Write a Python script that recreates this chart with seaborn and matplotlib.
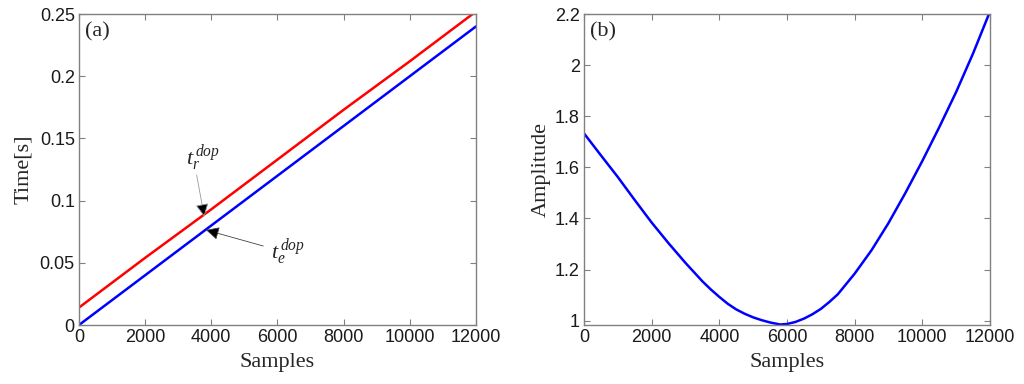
import matplotlib
matplotlib.use("Agg")
import matplotlib.pyplot as plt
import pandas as pd
import seaborn as sns

# (a) time axes
samples_a = [0, 2000, 4000, 6000, 8000, 10000, 12000]
t_r = [0.014, 0.054, 0.093, 0.133, 0.173, 0.212, 0.252]
t_e = [0.000, 0.040, 0.080, 0.120, 0.160, 0.200, 0.240]

# (b) amplitude curve
samples_b = [0, 500, 1000, 1500, 2000, 2500, 3000, 3500, 3750, 4000, 4250,
             4500, 4750, 5000, 5250, 5500, 5800, 6000, 6250, 6500, 6750,
             7000, 7250, 7500, 8000, 8500, 9000, 9500, 10000, 10500, 11000,
             11500, 12000]
amplitude = [1.733, 1.647, 1.562, 1.472, 1.384, 1.303, 1.226, 1.154, 1.122,
             1.093, 1.066, 1.044, 1.027, 1.013, 1.002, 0.993, 0.985, 0.987,
             0.995, 1.008, 1.025, 1.046, 1.073, 1.103, 1.184, 1.276, 1.382,
             1.500, 1.625, 1.757, 1.895, 2.046, 2.21]

x_ticks = [0, 2000, 4000, 6000, 8000, 10000, 12000]

sns.set_theme(style="white")
plt.rcParams["font.family"] = ["Liberation Sans", "DejaVu Sans"]
plt.rcParams["mathtext.fontset"] = "custom"
plt.rcParams["mathtext.rm"] = "Liberation Serif"
plt.rcParams["mathtext.it"] = "Liberation Serif:italic"

serif = ["Liberation Serif", "DejaVu Serif"]

fig = plt.figure(figsize=(10.24, 3.84), dpi=100)
ax1 = fig.add_axes([0.0771, 0.1536, 0.3877, 0.8099])
ax2 = fig.add_axes([0.5703, 0.1536, 0.3965, 0.8099])

df_a = pd.DataFrame({"samples": samples_a, "t_r": t_r, "t_e": t_e})
df_b = pd.DataFrame({"samples": samples_b, "amp": amplitude})

sns.lineplot(data=df_a, x="samples", y="t_r", ax=ax1, color="#ff0000", lw=1.8)
sns.lineplot(data=df_a, x="samples", y="t_e", ax=ax1, color="#0000ff", lw=1.8)
sns.lineplot(data=df_b, x="samples", y="amp", ax=ax2, color="#0000ff", lw=1.8)

ax1.set_xlim(0, 12000)
ax1.set_ylim(0, 0.25)
ax1.set_yticks([0, 0.05, 0.1, 0.15, 0.2, 0.25])
ax1.set_yticklabels(["0", "0.05", "0.1", "0.15", "0.2", "0.25"])
ax1.set_ylabel("Time[s]", family=serif, fontsize=16, labelpad=5)

ax2.set_xlim(0, 12000)
ax2.set_ylim(0.983, 2.2)
ax2.set_yticks([1, 1.2, 1.4, 1.6, 1.8, 2, 2.2])
ax2.set_yticklabels(["1", "1.2", "1.4", "1.6", "1.8", "2", "2.2"])
ax2.set_ylabel("Amplitude", family=serif, fontsize=16, labelpad=3)

for ax, tag in [(ax1, "(a)"), (ax2, "(b)")]:
    ax.set_xticks(x_ticks)
    ax.set_xticklabels([str(v) for v in x_ticks])
    ax.set_xlabel("Samples", family=serif, fontsize=16, labelpad=5)
    ax.tick_params(direction="in", length=4, width=0.8, colors="#808080",
                   labelcolor="#1a1a1a", labelsize=13, top=True, right=True,
                   bottom=True, left=True, pad=3)
    for sp in ax.spines.values():
        sp.set_color("#808080")
        sp.set_linewidth(1.0)
    ax.text(0.015, 0.975, tag, transform=ax.transAxes, ha="left", va="top",
            family=serif, fontsize=16)

# arrows and labels for the two curves
ax1.annotate("", xy=(3790, 0.087), xytext=(3557, 0.1206),
             arrowprops=dict(arrowstyle="-|>", lw=0.6, mutation_scale=20,
                             shrinkA=0, shrinkB=0,
                             edgecolor="#999999", facecolor="black"))
ax1.text(3234, 0.1286, r"$t_r^{\,dop}$", fontsize=16, ha="left", va="baseline")

ax1.annotate("", xy=(3839, 0.0764), xytext=(5571, 0.0635),
             arrowprops=dict(arrowstyle="-|>", lw=0.6, mutation_scale=20,
                             shrinkA=0, shrinkB=0,
                             edgecolor="#444444", facecolor="black"))
ax1.text(5794, 0.0536, r"$t_e^{\,dop}$", fontsize=16, ha="left", va="baseline")

fig.savefig("out.png", dpi=100)
